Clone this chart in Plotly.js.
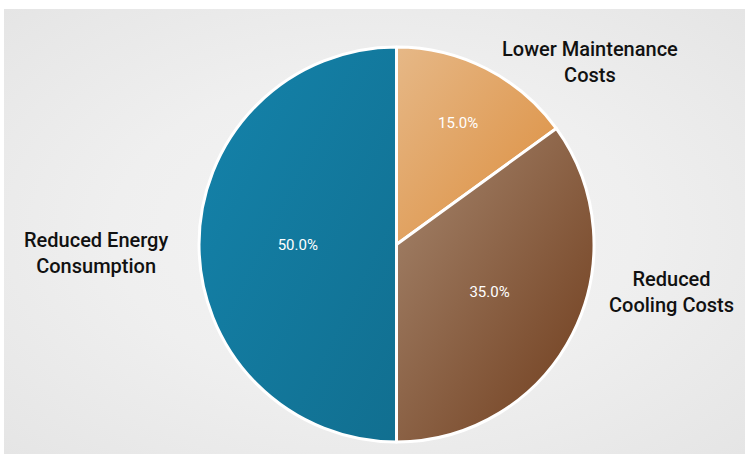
<!DOCTYPE html>
<html>
<head>
<meta charset="utf-8">
<script src="https://cdn.plot.ly/plotly-3.0.1.min.js"></script>
<style>
  html, body { margin: 0; padding: 0; background: #ffffff; }
  #wrap { position: relative; width: 745px; height: 454px; background: #ffffff; overflow: hidden; }
  #bg { position: absolute; left: 4px; top: 9px; width: 741px; height: 445px;
        background: radial-gradient(ellipse at 50% 50%, #f4f4f4 0%, #efefef 50%, #e5e5e5 100%); }
  #chart { position: absolute; left: 0; top: 0; width: 745px; height: 454px; }
</style>
</head>
<body>
<div id="wrap"><div id="bg"></div><div id="chart"></div></div>
<script>
// ---- data ----
var labels = ["Lower Maintenance Costs", "Reduced Cooling Costs", "Reduced Energy Consumption"];
var labelLines = ["Lower Maintenance<br>Costs", "Reduced<br>Cooling Costs", "Reduced Energy<br>Consumption"];
var values = [15, 35, 50];
var colors = ["#de9f5c", "#8c5c3c", "#137a9f"];
var gradients = [["#e6b887", "#dc8d3c"], ["#a6876f", "#6f3b1a"], ["#1483ab", "#116f90"]];

// ---- label placement (paper coords) ----
var labelPos = [[0.778, 0.962], [0.895, 0.381], [0.069, 0.478]];

var trace = {
  type: "pie",
  labels: labels,
  values: values,
  sort: false,
  direction: "clockwise",
  rotation: 0,
  marker: { colors: colors, line: { color: "#ffffff", width: 3 } },
  textinfo: "percent",
  texttemplate: "%{percent:.1%}",
  textposition: "inside",
  insidetextorientation: "horizontal",
  insidetextfont: { family: "Roboto, sans-serif", size: 15, color: "#ffffff" },
  hoverinfo: "label+percent",
  showlegend: false
};

var annotations = labelLines.map(function (t, i) {
  return {
    xref: "paper", yref: "paper", x: labelPos[i][0], y: labelPos[i][1],
    text: t, showarrow: false, align: "center",
    xanchor: "center", yanchor: "middle",
    font: { family: "Roboto, sans-serif", size: 20, color: "#111111", weight: 500 }
  };
});

var layout = {
  width: 745, height: 454,
  margin: { l: 48, r: 0, t: 47, b: 12 },
  paper_bgcolor: "rgba(0,0,0,0)",
  plot_bgcolor: "rgba(0,0,0,0)",
  showlegend: false,
  annotations: annotations
};

Plotly.newPlot("chart", [trace], layout, { displayModeBar: false, staticPlot: true }).then(function (gd) {
  var svg = gd.querySelector(".main-svg");
  var ns = "http://www.w3.org/2000/svg";
  var defs = svg.querySelector("defs") || svg.insertBefore(document.createElementNS(ns, "defs"), svg.firstChild);
  gradients.forEach(function (g, i) {
    var lg = document.createElementNS(ns, "linearGradient");
    lg.setAttribute("id", "sliceGrad" + i);
    lg.setAttribute("x1", "0"); lg.setAttribute("y1", "0");
    lg.setAttribute("x2", "1"); lg.setAttribute("y2", "1");
    [[0, g[0]], [1, g[1]]].forEach(function (s) {
      var st = document.createElementNS(ns, "stop");
      st.setAttribute("offset", s[0]);
      st.setAttribute("stop-color", s[1]);
      lg.appendChild(st);
    });
    defs.appendChild(lg);
  });
  var paths = gd.querySelectorAll(".slice path.surface");
  paths.forEach(function (p, i) { p.style.fill = "url(#sliceGrad" + i + ")"; });
});
</script>
</body>
</html>
